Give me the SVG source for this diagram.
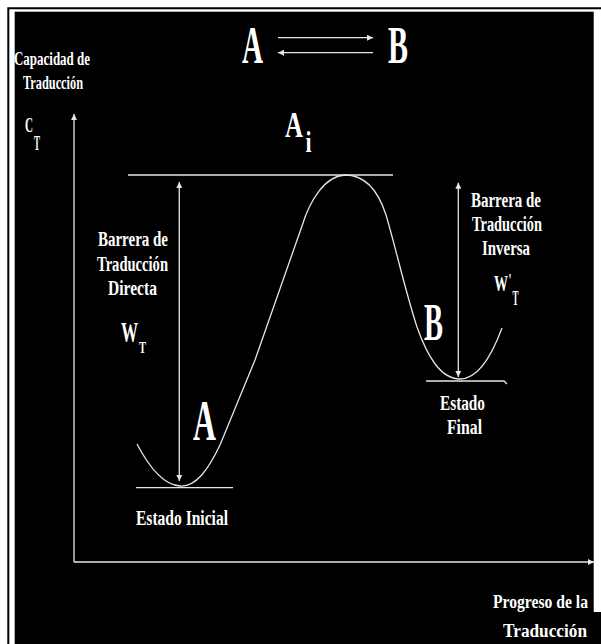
<svg xmlns="http://www.w3.org/2000/svg" width="601" height="644" viewBox="0 0 601 644">
<defs>
<style>
.t{font-family:"Liberation Serif","DejaVu Serif",serif;font-weight:bold;fill:#ffffff}
.ln{stroke:#e6e6e6;stroke-width:1.3;fill:none}
</style>
<marker id="ah" viewBox="0 0 6 6" refX="6" refY="3" markerWidth="6" markerHeight="6" markerUnits="userSpaceOnUse" orient="auto-start-reverse">
<path d="M0,0 L6,3 L0,6 z" fill="#e6e6e6"/>
</marker>
</defs>
<rect x="0" y="0" width="601" height="644" fill="#ffffff"/>
<path d="M8.3,644 V8.3 H601" stroke="#000" stroke-width="2" fill="none"/>
<rect x="14.7" y="11.7" width="579" height="633" fill="#000"/>
<rect x="540" y="612" width="61" height="32" fill="#000"/>

<g id="connectors">
<line class="ln" x1="74" y1="562" x2="74" y2="114" marker-end="url(#ah)"/>
<line class="ln" x1="74" y1="562" x2="594" y2="562" marker-end="url(#ah)"/>
<line class="ln" x1="278" y1="37.7" x2="373" y2="37.7" marker-end="url(#ah)"/>
<line class="ln" x1="373" y1="52.7" x2="278" y2="52.7" marker-end="url(#ah)"/>
<line class="ln" x1="179.3" y1="182" x2="179.3" y2="481" marker-start="url(#ah)" marker-end="url(#ah)"/>
<line class="ln" x1="458.3" y1="182.7" x2="458.3" y2="377" marker-start="url(#ah)" marker-end="url(#ah)"/>
<line class="ln" x1="128" y1="175" x2="393" y2="175"/>
<line class="ln" x1="136" y1="487.7" x2="233" y2="487.7"/>
<path class="ln" d="M426,381 H504 L507,384"/>
<path class="ln" d="M137,444 C148,465 162,485 180,486 C196,487 208,470 220,445 L255,360 L302,226 C310,200 325,176 345,175 C365,175 378,190 386,215 C395,245 405,290 417,327 C427,355 440,379 460,379 C478,379 492,355 502,328"/>
</g>

<g id="reaction">
<text class="t" x="242" y="63" font-size="53" textLength="21" lengthAdjust="spacingAndGlyphs">A</text>
<text class="t" x="388" y="63" font-size="53" textLength="20" lengthAdjust="spacingAndGlyphs">B</text>
</g>

<g id="y-axis-label">
<text class="t" x="14" y="65" font-size="18" textLength="76" lengthAdjust="spacingAndGlyphs">Capacidad de</text>
<text class="t" x="23" y="89" font-size="18" textLength="60" lengthAdjust="spacingAndGlyphs">Traducción</text>
<text class="t"><tspan x="25" y="132" font-size="22" textLength="8" lengthAdjust="spacingAndGlyphs">C</tspan><tspan x="34" y="150" font-size="20" textLength="6" lengthAdjust="spacingAndGlyphs">T</tspan></text>
</g>

<g id="transition-state">
<text class="t"><tspan x="285" y="137" font-size="36" textLength="18" lengthAdjust="spacingAndGlyphs">A</tspan><tspan x="305.5" y="152" font-size="29" textLength="6" lengthAdjust="spacingAndGlyphs">i</tspan></text>
</g>

<g id="direct-barrier">
<text class="t" x="98" y="246" font-size="20" textLength="70" lengthAdjust="spacingAndGlyphs">Barrera de</text>
<text class="t" x="97" y="271" font-size="20" textLength="71" lengthAdjust="spacingAndGlyphs">Traducción</text>
<text class="t" x="108" y="295" font-size="20" textLength="49" lengthAdjust="spacingAndGlyphs">Directa</text>
<text class="t"><tspan x="121" y="342" font-size="30" textLength="17" lengthAdjust="spacingAndGlyphs">W</tspan><tspan x="139" y="353" font-size="17" textLength="7" lengthAdjust="spacingAndGlyphs">T</tspan></text>
</g>

<g id="inverse-barrier">
<text class="t" x="471" y="207" font-size="20" textLength="70" lengthAdjust="spacingAndGlyphs">Barrera de</text>
<text class="t" x="472" y="231" font-size="20" textLength="70" lengthAdjust="spacingAndGlyphs">Traducción</text>
<text class="t" x="482" y="255" font-size="20" textLength="48" lengthAdjust="spacingAndGlyphs">Inversa</text>
<text class="t"><tspan x="494" y="291" font-size="24" textLength="14" lengthAdjust="spacingAndGlyphs">W</tspan><tspan x="508.5" y="287" font-size="18" textLength="3" lengthAdjust="spacingAndGlyphs">'</tspan><tspan x="512.5" y="305" font-size="21" textLength="6" lengthAdjust="spacingAndGlyphs">T</tspan></text>
</g>

<g id="state-A">
<text class="t" x="193" y="440" font-size="56" textLength="23" lengthAdjust="spacingAndGlyphs">A</text>
<text class="t" x="136" y="525" font-size="20" textLength="92" lengthAdjust="spacingAndGlyphs">Estado Inicial</text>
</g>

<g id="state-B">
<text class="t" x="424" y="340" font-size="53" textLength="19" lengthAdjust="spacingAndGlyphs">B</text>
<text class="t" x="440" y="410" font-size="20" textLength="45" lengthAdjust="spacingAndGlyphs">Estado</text>
<text class="t" x="447" y="434" font-size="20" textLength="35" lengthAdjust="spacingAndGlyphs">Final</text>
</g>

<g id="x-axis-label">
<text class="t" x="493" y="608" font-size="18" textLength="95" lengthAdjust="spacingAndGlyphs">Progreso de la</text>
<text class="t" x="503" y="637" font-size="18" textLength="84" lengthAdjust="spacingAndGlyphs">Traducción</text>
</g>
</svg>
